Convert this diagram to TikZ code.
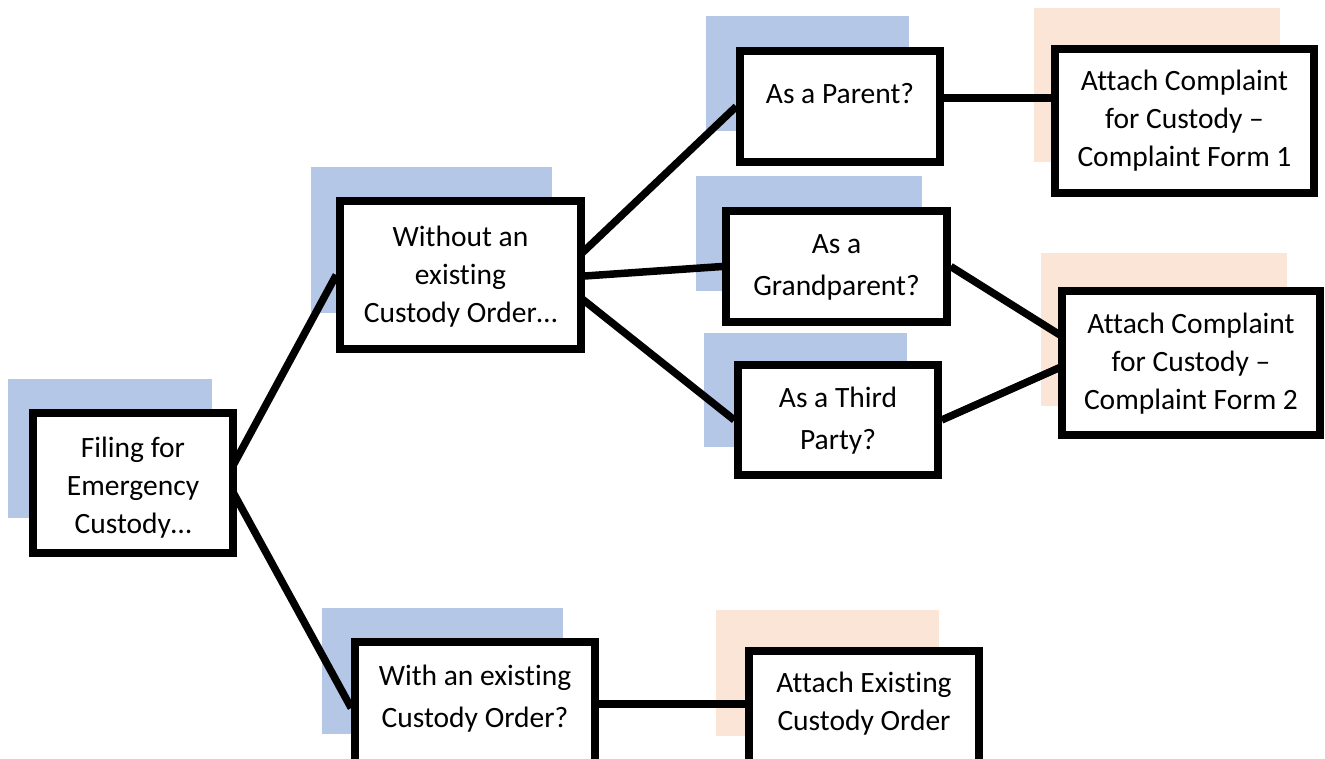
\documentclass[tikz,border=0pt]{standalone}
\usepackage{fontspec}
\setmainfont{Carlito}[Ligatures=NoCommon]
\usepackage{tikz}
\usetikzlibrary{positioning}
\definecolor{shadowblue}{HTML}{B4C7E7}
\definecolor{shadowpeach}{HTML}{FBE5D6}
\pgfdeclarelayer{back}
\pgfdeclarelayer{links}
\pgfsetlayers{back,links,main}

\begin{document}
\begin{tikzpicture}[
    x=1pt, y=-1pt,
    box/.style       = {rectangle, draw=black, line width=7.5pt, fill=white, inner sep=0pt},
    backblue/.style  = {rectangle, fill=shadowblue, inner sep=0pt},
    backpeach/.style = {rectangle, fill=shadowpeach, inner sep=0pt},
    txt/.style       = {anchor=north, inner sep=0pt, align=center,
                        font=\fontsize{29.5}{38}\selectfont},
    qtxt/.style      = {txt, font=\fontsize{29.5}{42}\selectfont},
    link/.style      = {line width=7.5pt, black}
]
\useasboundingbox (0,0) rectangle (1325,759);

% Boxes
\node[box, minimum width=200pt, minimum height=140pt] (filing)  at (133,483)    {};
\node[box, minimum width=241pt, minimum height=148pt] (without) at (460.5,275)  {};
\node[box, minimum width=240pt, minimum height=148pt] (with)    at (475,716)    {};
\node[box, minimum width=200pt, minimum height=111pt] (parent)  at (840,106.5)  {};
\node[box, minimum width=221pt, minimum height=111pt] (grand)   at (836.5,266.5){};
\node[box, minimum width=200pt, minimum height=110pt] (third)   at (838,420)    {};
\node[box, minimum width=259pt, minimum height=144pt] (formone) at (1184.5,121) {};
\node[box, minimum width=258pt, minimum height=144pt] (formtwo) at (1191,363)   {};
\node[box, minimum width=230pt, minimum height=149pt] (order)   at (864,725.5)  {};

% Texts
\node[txt]  (filing-t)  at (133,430.4)   {\strut Filing for\\Emergency\\Custody…};
\node[txt]  (without-t) at (460.5,219.4) {\strut Without an\\existing\\Custody Order…};
\node[qtxt] (with-t)    at (475,655.6)   {\strut With an existing\\Custody Order?};
\node[qtxt] (parent-t)  at (840,73.6)    {\strut As a Parent?};
\node[qtxt] (grand-t)   at (836.5,223.6) {\strut As a\\Grandparent?};
\node[qtxt] (third-t)   at (838,377.6)   {\strut As a Third\\Party?};
\node[txt]  (formone-t) at (1184.5,63.4) {\strut Attach Complaint\\for Custody --\\Complaint Form 1};
\node[txt]  (formtwo-t) at (1191,306.4)  {\strut Attach Complaint\\for Custody --\\Complaint Form 2};
\node[txt]  (order-t)   at (864,665.4)   {\strut Attach Existing\\Custody Order};

% Offset colour blocks behind the boxes
\begin{pgfonlayer}{back}
\node[backblue,  minimum width=204pt, minimum height=139pt] (filing-bg)  at (110,448.5)  {};
\node[backblue,  minimum width=241pt, minimum height=146pt] (without-bg) at (431.5,240)  {};
\node[backblue,  minimum width=241pt, minimum height=126pt] (with-bg)    at (442.5,671)  {};
\node[backblue,  minimum width=203pt, minimum height=115pt] (parent-bg)  at (807.5,73.5) {};
\node[backblue,  minimum width=226pt, minimum height=115pt] (grand-bg)   at (809,233.5)  {};
\node[backblue,  minimum width=203pt, minimum height=114pt] (third-bg)   at (805.5,390)  {};
\node[backpeach, minimum width=246pt, minimum height=154pt] (formone-bg) at (1157,85)    {};
\node[backpeach, minimum width=246pt, minimum height=153pt] (formtwo-bg) at (1164,329.5) {};
\node[backpeach, minimum width=223pt, minimum height=126pt] (order-bg)   at (827.5,673)  {};
\end{pgfonlayer}

% Connectors
\begin{pgfonlayer}{links}
\draw[link] ([xshift=-11pt,yshift=4pt]filing.east) -- (without.west);
\draw[link] ([xshift=-11pt,yshift=4pt]filing.east) -- ([yshift=8pt]with.west);
\draw[link] ([xshift=-29pt,yshift=-3pt]without.east) -- (parent.west);
\draw[link] ([xshift=-29pt,yshift=-3pt]without.east) -- (grand.west);
\draw[link] ([xshift=-29pt,yshift=-3pt]without.east) -- (third.west);
\draw[link] ([yshift=8.5pt]parent.east) -- ([yshift=23pt]formone.west);
\draw[link] (grand.east) -- ([xshift=32pt,yshift=9pt]formtwo.west);
\draw[link] (third.east) -- ([xshift=32pt,yshift=9pt]formtwo.west);
\draw[link] ([yshift=12pt]with.east) -- ([yshift=21.5pt]order.west);
\end{pgfonlayer}
\end{tikzpicture}
\end{document}
